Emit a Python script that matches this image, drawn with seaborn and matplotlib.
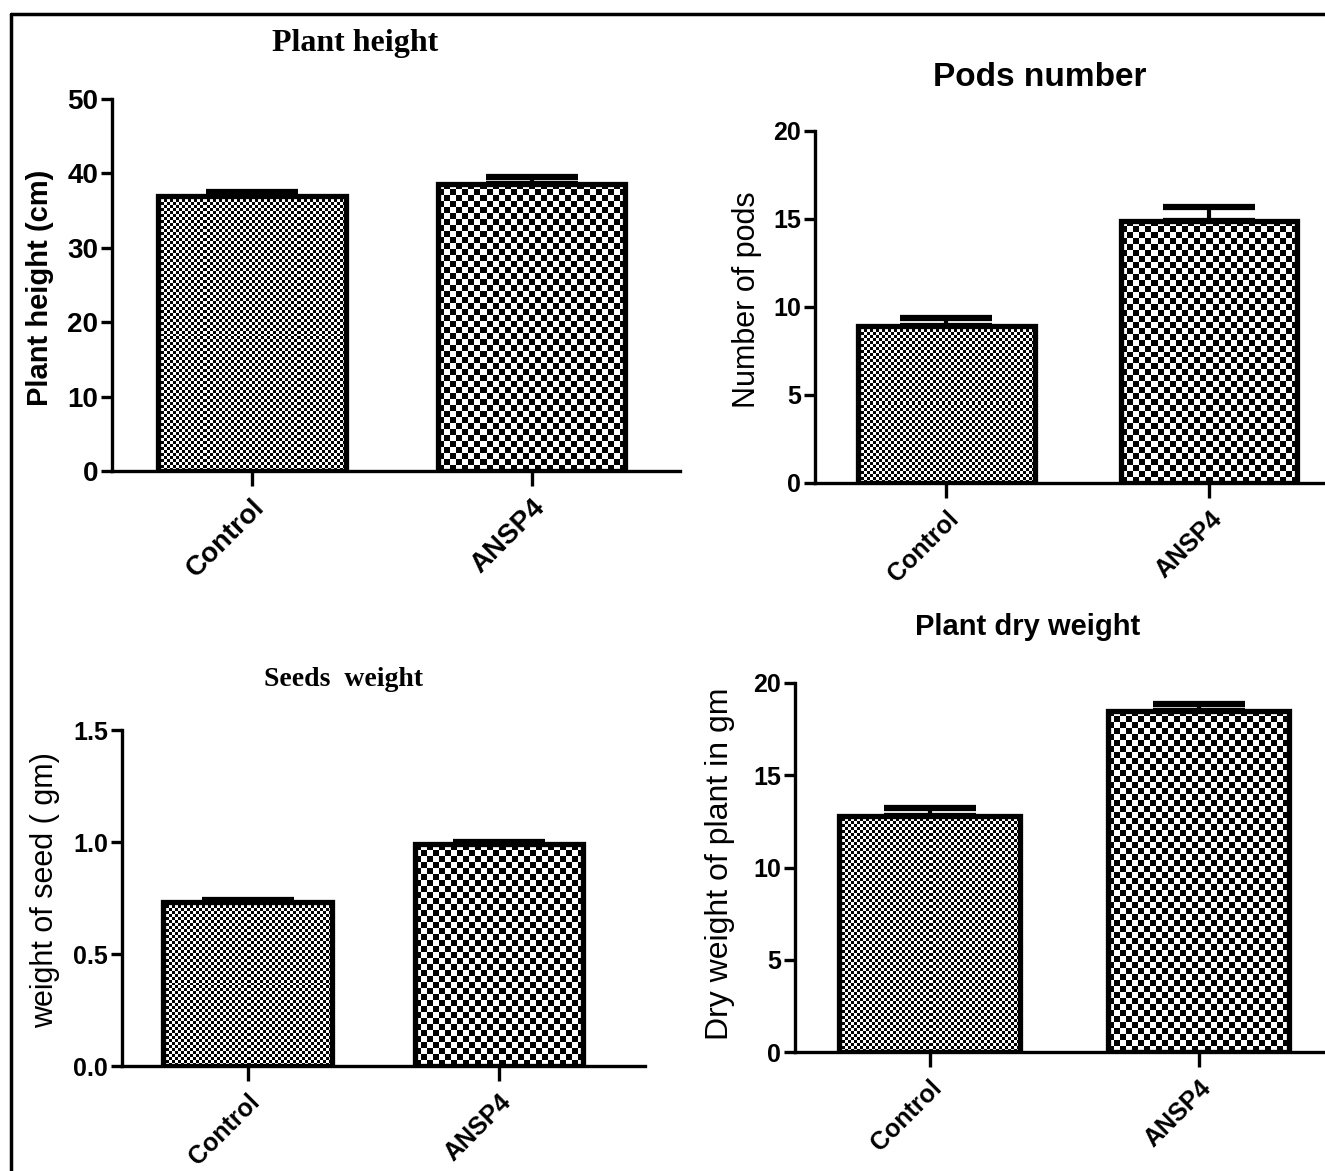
import numpy as np
import matplotlib
matplotlib.use('Agg')
import matplotlib.pyplot as plt
from matplotlib.lines import Line2D
import seaborn as sns

# data
groups = ['Control', 'ANSP4']
height_mean = [36.9, 38.6]
height_err = [0.6, 0.9]
pods_mean = [8.9, 14.9]
pods_err = [0.5, 0.8]
seed_mean = [0.73, 0.99]
seed_err = [0.01, 0.01]
dry_mean = [12.8, 18.5]
dry_err = [0.45, 0.35]

W, H = 1325, 1171
SANS = ['Liberation Sans', 'DejaVu Sans']
SERIF = ['Liberation Serif', 'DejaVu Serif']

sns.set_style('ticks')
plt.rcParams['font.family'] = SANS
plt.rcParams.update({
    'text.color': 'black',
    'axes.labelcolor': 'black',
    'axes.edgecolor': 'black',
    'xtick.color': 'black',
    'ytick.color': 'black',
})

fig = plt.figure(figsize=(W / 100, H / 100), dpi=100)


def add_axes_px(left, top, right, bottom):
    return fig.add_axes([left / W, 1 - bottom / H, (right - left) / W, (bottom - top) / H])


def checker_fill(ax, cells):
    fig.canvas.draw()
    for patch, c in zip(ax.patches, cells):
        bb = patch.get_window_extent()
        nx = max(int(round(bb.width / c)), 1)
        ny = max(int(round(bb.height / c)), 1)
        img = (np.indices((ny, nx)).sum(axis=0) % 2).astype(float)
        x0, y0 = patch.get_x(), patch.get_y()
        im = ax.imshow(img, cmap='gray', vmin=0, vmax=1, interpolation='nearest',
                       extent=(x0, x0 + patch.get_width(), y0, y0 + patch.get_height()),
                       aspect='auto', zorder=2, origin='lower')
        im.set_clip_path(patch)
        patch.set_facecolor('none')
        patch.set_zorder(3)


def panel(rect, means, errs, ylim, yticks, xright, tick_fmt, tick_size, xtick_size):
    ax = add_axes_px(*rect)
    sns.barplot(x=groups, y=means, ax=ax, color='white', edgecolor='black',
                linewidth=3.8, width=0.67, errorbar=None, saturation=1)
    ax.errorbar(x=[0, 1], y=means, yerr=[np.zeros(len(errs)), errs], fmt='none',
                ecolor='black', elinewidth=3, capsize=33, capthick=4.5, zorder=1)
    ax.set_xlim(-0.5, xright)
    ax.set_ylim(*ylim)
    ax.set_yticks(yticks)
    ax.set_yticklabels([tick_fmt.format(t) for t in yticks], fontsize=tick_size,
                       fontweight='bold')
    ax.set_xticks([0, 1])
    ax.set_xticklabels(groups, rotation=45, ha='right', rotation_mode='anchor',
                       fontsize=xtick_size, fontweight='bold')
    sns.despine(ax=ax)
    for s in ('left', 'bottom'):
        ax.spines[s].set_linewidth(2.4)
    ax.tick_params(axis='y', length=8, width=2.4, pad=2)
    ax.tick_params(axis='x', length=11, width=2.4, pad=6)
    ax.set_xlabel('')
    ax.set_ylabel('')
    checker_fill(ax, [3, 6])
    return ax


panel((112, 99, 680, 471), height_mean, height_err, (0, 50), [0, 10, 20, 30, 40, 50],
      1.53, '{:.0f}', 20, 20)
panel((815, 131, 1325, 483), pods_mean, pods_err, (0, 20), [0, 5, 10, 15, 20],
      1.44, '{:.0f}', 18, 18)
panel((122, 730, 645, 1066), seed_mean, seed_err, (0, 1.5), [0.0, 0.5, 1.0, 1.5],
      1.58, '{:.1f}', 18, 18)
panel((795, 683, 1325, 1052), dry_mean, dry_err, (0, 20), [0, 5, 10, 15, 20],
      1.47, '{:.0f}', 18, 18)

# titles
fig.text(355 / W, 1 - 44 / H, 'Plant height', ha='center', va='center',
         family=SERIF, fontweight='bold', fontsize=23)
fig.text(1040 / W, 1 - 77 / H, 'Pods number', ha='center', va='center',
         fontweight='bold', fontsize=24)
fig.text(343 / W, 1 - 680 / H, 'Seeds  weight', ha='center', va='center',
         family=SERIF, fontweight='bold', fontsize=20)
fig.text(1028 / W, 1 - 627 / H, 'Plant dry weight', ha='center', va='center',
         fontweight='bold', fontsize=21)

# y labels
fig.text(40 / W, 1 - 288 / H, 'Plant height (cm)', ha='center', va='center',
         rotation=90, fontweight='bold', fontsize=21)
fig.text(747 / W, 1 - 300 / H, 'Number of pods', ha='center', va='center',
         rotation=90, fontsize=22)
fig.text(45 / W, 1 - 890 / H, 'weight of seed ( gm)', ha='center', va='center',
         rotation=90, fontsize=22)
fig.text(720 / W, 1 - 864 / H, 'Dry weight of plant in gm', ha='center', va='center',
         rotation=90, fontsize=23)

# frame lines at top and left
fig.add_artist(Line2D([11 / W, 1], [1 - 14 / H, 1 - 14 / H], color='black', lw=2.5))
fig.add_artist(Line2D([11 / W, 11 / W], [0, 1 - 14 / H], color='black', lw=2.5))

fig.savefig('out.png', dpi=100)
